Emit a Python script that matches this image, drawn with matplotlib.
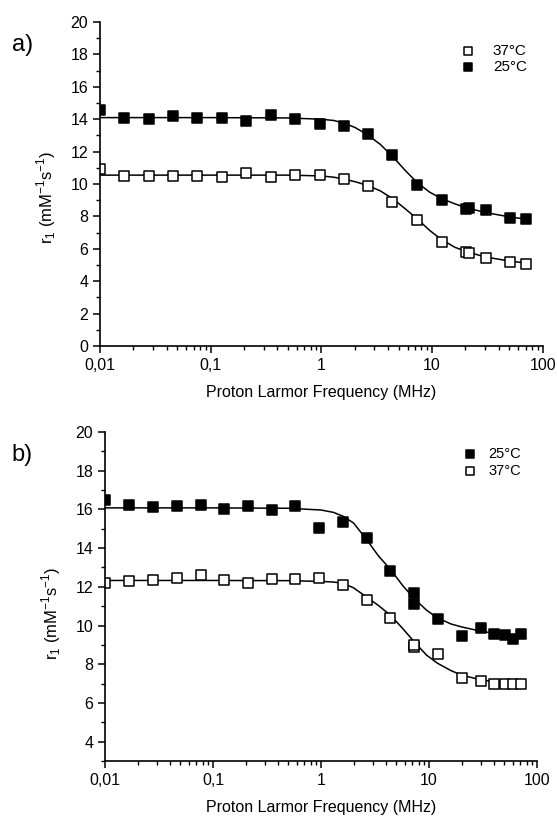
import numpy as np
import matplotlib.pyplot as plt
from matplotlib.ticker import FixedLocator, MultipleLocator, NullFormatter

plt.rcParams['font.family'] = ['Liberation Sans', 'DejaVu Sans']

# ---- panel a) data ----
freq_a = [0.01, 0.0165, 0.0277, 0.0456, 0.0751, 0.126, 0.208, 0.35, 0.577, 0.968,
          1.6, 2.63, 4.34, 7.28, 12.2, 20.2, 21.5, 30.5, 50.4, 70.2]
r1_a_37 = [10.9, 10.49, 10.49, 10.49, 10.49, 10.45, 10.65, 10.45, 10.55, 10.55,
           10.29, 9.90, 8.91, 7.80, 6.42, 5.80, 5.74, 5.46, 5.19, 5.09]
r1_a_25 = [14.55, 14.1, 14.04, 14.18, 14.1, 14.1, 13.89, 14.24, 14.0, 13.73,
           13.56, 13.07, 11.77, 9.96, 8.99, 8.46, 8.5, 8.42, 7.93, 7.82]

fit_freq = [0.01, 0.1, 0.5, 1.0, 1.3, 1.6, 2.0, 2.6, 3.4, 4.4, 5.7, 7.3, 9.5,
            12, 16, 20, 30, 50, 70]
fit_a_25 = [14.1, 14.1, 14.08, 14.0, 13.92, 13.76, 13.5, 13.05, 12.45, 11.7,
            10.85, 10.1, 9.5, 9.12, 8.78, 8.55, 8.25, 7.97, 7.84]
fit_a_37 = [10.55, 10.55, 10.55, 10.5, 10.42, 10.3, 10.15, 9.92, 9.58, 9.1,
            8.48, 7.86, 7.14, 6.6, 6.1, 5.85, 5.5, 5.25, 5.12]

# ---- panel b) data ----
freq_b = [0.01, 0.0167, 0.028, 0.046, 0.077, 0.127, 0.21, 0.35, 0.58, 0.96,
          1.6, 2.67, 4.4, 7.3, 7.3, 12.1, 20, 30, 40, 50.6, 60.4, 70.6]
r1_b_25 = [16.5, 16.24, 16.12, 16.17, 16.24, 16.03, 16.17, 15.95, 16.17, 15.06,
           15.37, 14.52, 12.84, 11.70, 11.13, 10.34, 9.45, 9.85, 9.54, 9.50, 9.33, 9.54]
r1_b_37 = [12.2, 12.29, 12.33, 12.47, 12.59, 12.33, 12.19, 12.38, 12.38, 12.47,
           12.12, 11.32, 10.39, 8.88, 9.0, 8.52, 7.29, 7.15, 6.96, 6.96, 6.96, 6.96]

fit_b_25 = [16.08, 16.08, 16.06, 15.97, 15.85, 15.65, 15.3, 14.5, 13.6, 12.9,
            12.07, 11.39, 10.79, 10.39, 10.08, 9.93, 9.71, 9.52, 9.41]
fit_b_37 = [12.33, 12.33, 12.32, 12.28, 12.25, 12.18, 11.95, 11.5, 11.04, 10.53,
            9.85, 9.16, 8.47, 8.05, 7.67, 7.44, 7.2, 7.02, 6.95]

xticks = [0.01, 0.1, 1, 10, 100]
xtick_labels = ['0,01', '0,1', '1', '10', '100']
ylabel = r'r$_\mathregular{1}$ (mM$^\mathregular{-1}$s$^\mathregular{-1}$)'


def style_axis(ax, ymin, yticks):
    ax.set_xscale('log')
    ax.set_xlim(0.01, 100)
    ax.set_ylim(ymin, 20)
    for s in ['top', 'right']:
        ax.spines[s].set_visible(False)
    for s in ['left', 'bottom']:
        ax.spines[s].set_linewidth(1.2)
        ax.spines[s].set_zorder(5)
    ax.set_xticks(xticks)
    ax.set_xticklabels(xtick_labels)
    minors = [m * 10.0 ** e for e in range(-2, 2) for m in range(2, 10)]
    ax.xaxis.set_minor_locator(FixedLocator(minors))
    ax.xaxis.set_minor_formatter(NullFormatter())
    ax.set_yticks(yticks)
    ax.yaxis.set_minor_locator(MultipleLocator(1))
    ax.tick_params(which='major', direction='out', length=5, width=1.1, labelsize=11.5)
    ax.tick_params(which='minor', direction='out', length=3, width=1.0)
    ax.set_xlabel('Proton Larmor Frequency (MHz)', fontsize=11.5, labelpad=9)
    ax.set_ylabel(ylabel, fontsize=12)


fig = plt.figure(figsize=(5.57, 8.19), dpi=100)

sc = dict(marker='s', s=42, edgecolors='black', linewidths=1.1, zorder=3)

# panel a
ax1 = fig.add_axes([0.1795, 0.5775, 0.795, 0.3956])
ax1.plot(fit_freq, fit_a_25, color='black', lw=1.1)
ax1.plot(fit_freq, fit_a_37, color='black', lw=1.1)
h37 = ax1.scatter(freq_a, r1_a_37, facecolors='white', label='37°C', **sc)
h25 = ax1.scatter(freq_a, r1_a_25, facecolors='black', label='25°C', **sc)
style_axis(ax1, 0, np.arange(0, 21, 2))
ax1.yaxis.set_label_coords(-0.095, 0.46)
ax1.legend(handles=[h37, h25], loc='upper right', bbox_to_anchor=(0.995, 0.975),
           frameon=False, fontsize=11, handlelength=1.0, handletextpad=1.1,
           labelspacing=0.15, markerscale=0.85)
fig.text(0.04, 0.945, 'a)', fontsize=17, va='center', ha='center')

# panel b
ax2 = fig.add_axes([0.1885, 0.0708, 0.7756, 0.4017])
ax2.plot(fit_freq, fit_b_25, color='black', lw=1.1)
ax2.plot(fit_freq, fit_b_37, color='black', lw=1.1)
g25 = ax2.scatter(freq_b, r1_b_25, facecolors='black', label='25°C', **sc)
g37 = ax2.scatter(freq_b, r1_b_37, facecolors='white', label='37°C', **sc)
style_axis(ax2, 3, np.arange(4, 21, 2))
ax2.yaxis.set_label_coords(-0.097, 0.45)
ax2.legend(handles=[g25, g37], loc='upper right', bbox_to_anchor=(0.993, 0.995),
           frameon=False, fontsize=10.5, handlelength=1.0, handletextpad=0.75,
           labelspacing=0.2, markerscale=0.85)
fig.text(0.04, 0.445, 'b)', fontsize=17, va='center', ha='center')

fig.savefig('out.png', dpi=100)
